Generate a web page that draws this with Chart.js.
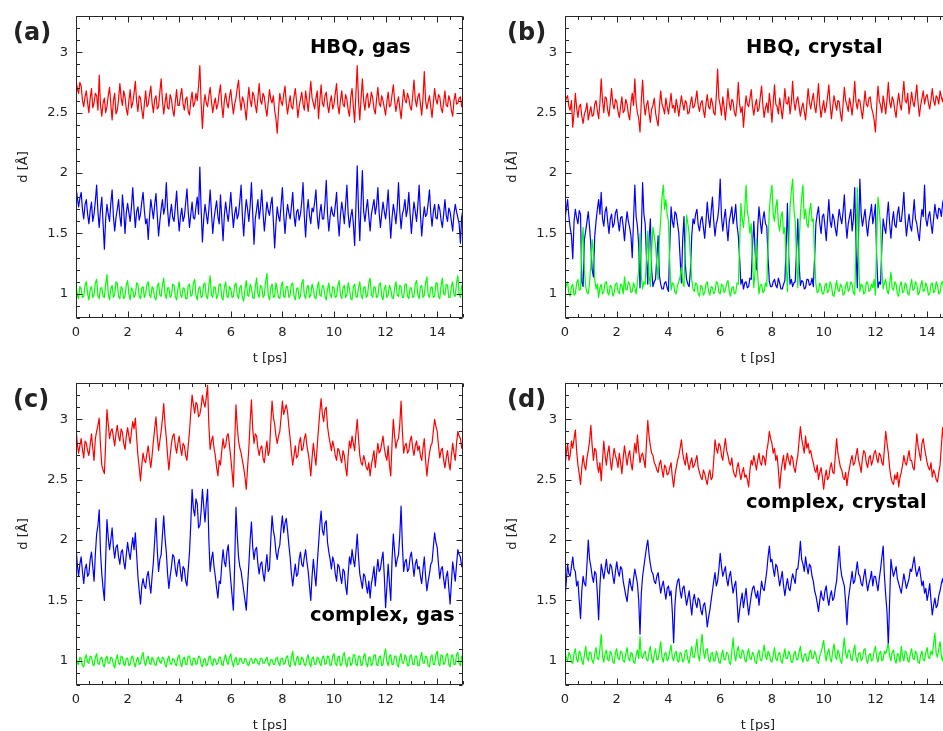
<!DOCTYPE html>
<html>
<head>
<meta charset="utf-8">
<script src="https://cdn.jsdelivr.net/npm/chart.js@4.4.1/dist/chart.umd.min.js"></script>
<style>
  html, body { margin: 0; padding: 0; background: #fff; }
  body { position: relative; width: 943px; height: 731px; overflow: hidden; font-family: "DejaVu Sans", sans-serif; color: #222; }
  canvas { position: absolute; }
  .lbl { position: absolute; font-weight: bold; font-size: 24px; line-height: 24px; white-space: nowrap; }
  .ttl { position: absolute; font-weight: bold; font-size: 19.5px; line-height: 19.5px; white-space: nowrap; color: #000; }
  .ax { position: absolute; font-size: 13px; line-height: 13px; white-space: nowrap; transform: translate(-50%, -50%); }
  .ax.v { transform: translate(-50%, -50%) rotate(-90deg); }
</style>
</head>
<body>
<canvas id="pa" width="470" height="370" style="left:0;top:0;width:470px;height:370px"></canvas>
<canvas id="pb" width="490" height="370" style="left:470px;top:0;width:490px;height:370px"></canvas>
<canvas id="pc" width="470" height="370" style="left:0;top:367px;width:470px;height:370px"></canvas>
<canvas id="pd" width="490" height="370" style="left:470px;top:367px;width:490px;height:370px"></canvas>

<div class="lbl" style="left:13px;top:20px">(a)</div>
<div class="lbl" style="left:507px;top:20px">(b)</div>
<div class="lbl" style="left:13px;top:387px">(c)</div>
<div class="lbl" style="left:507px;top:387px">(d)</div>

<div class="ttl" style="left:310px;top:37px">HBQ, gas</div>
<div class="ttl" style="left:746px;top:37px">HBQ, crystal</div>
<div class="ttl" style="left:310px;top:605px">complex, gas</div>
<div class="ttl" style="left:746px;top:492px">complex, crystal</div>

<div class="ax v" style="left:22px;top:167px">d [Å]</div>
<div class="ax v" style="left:511px;top:167px">d [Å]</div>
<div class="ax v" style="left:22px;top:534px">d [Å]</div>
<div class="ax v" style="left:511px;top:534px">d [Å]</div>
<div class="ax" style="left:270px;top:357px">t [ps]</div>
<div class="ax" style="left:758px;top:357px">t [ps]</div>
<div class="ax" style="left:270px;top:724px">t [ps]</div>
<div class="ax" style="left:758px;top:724px">t [ps]</div>

<script>
// one value every 0.05 ps, 0 .. 15 ps (one row = 1 ps)
const T_STEP = 0.05;
const xTicks = [0, 2, 4, 6, 8, 10, 12, 14];
const yTicks = [1, 1.5, 2, 2.5, 3];

// (a) HBQ, gas
const aRed = [
  2.78, 2.70, 2.66, 2.75, 2.72, 2.60, 2.55, 2.63, 2.68, 2.58, 2.50, 2.62, 2.70, 2.54, 2.58, 2.66, 2.64, 2.52, 2.81, 2.56,
  2.47, 2.58, 2.62, 2.50, 2.55, 2.64, 2.71, 2.57, 2.44, 2.60, 2.66, 2.49, 2.52, 2.61, 2.74, 2.62, 2.56, 2.68, 2.63, 2.53,
  2.48, 2.60, 2.69, 2.54, 2.58, 2.66, 2.76, 2.59, 2.51, 2.64, 2.62, 2.52, 2.45, 2.57, 2.68, 2.55, 2.57, 2.65, 2.72, 2.58,
  2.50, 2.61, 2.64, 2.53, 2.55, 2.67, 2.78, 2.60, 2.49, 2.58, 2.66, 2.54, 2.53, 2.65, 2.61, 2.52, 2.47, 2.59, 2.69, 2.56,
  2.56, 2.64, 2.70, 2.57, 2.52, 2.61, 2.63, 2.51, 2.48, 2.60, 2.67, 2.55, 2.58, 2.66, 2.60, 2.72, 2.89, 2.58, 2.37, 2.56,
  2.65, 2.58, 2.55, 2.64, 2.71, 2.59, 2.50, 2.57, 2.62, 2.53, 2.57, 2.66, 2.73, 2.56, 2.46, 2.60, 2.66, 2.58, 2.54, 2.63,
  2.69, 2.58, 2.49, 2.57, 2.62, 2.70, 2.77, 2.61, 2.52, 2.63, 2.60, 2.53, 2.44, 2.59, 2.71, 2.60, 2.55, 2.67, 2.64, 2.56,
  2.50, 2.62, 2.74, 2.60, 2.57, 2.66, 2.63, 2.54, 2.47, 2.58, 2.69, 2.61, 2.58, 2.64, 2.52, 2.45, 2.33, 2.52, 2.66, 2.59,
  2.56, 2.65, 2.72, 2.58, 2.49, 2.57, 2.64, 2.55, 2.53, 2.63, 2.70, 2.59, 2.46, 2.55, 2.61, 2.67, 2.57, 2.52, 2.68, 2.60,
  2.51, 2.63, 2.76, 2.62, 2.58, 2.53, 2.62, 2.68, 2.45, 2.60, 2.73, 2.58, 2.55, 2.64, 2.67, 2.56, 2.50, 2.59, 2.64, 2.53,
  2.57, 2.66, 2.74, 2.56, 2.49, 2.60, 2.68, 2.57, 2.55, 2.65, 2.61, 2.52, 2.47, 2.63, 2.70, 2.55, 2.42, 2.66, 2.89, 2.60,
  2.44, 2.62, 2.78, 2.60, 2.52, 2.63, 2.66, 2.54, 2.58, 2.67, 2.62, 2.53, 2.49, 2.61, 2.71, 2.58, 2.55, 2.64, 2.60, 2.54,
  2.48, 2.59, 2.67, 2.55, 2.56, 2.65, 2.73, 2.60, 2.51, 2.58, 2.63, 2.54, 2.45, 2.57, 2.69, 2.61, 2.58, 2.66, 2.62, 2.55,
  2.52, 2.64, 2.77, 2.61, 2.55, 2.63, 2.66, 2.57, 2.48, 2.62, 2.84, 2.60, 2.53, 2.59, 2.64, 2.55, 2.46, 2.58, 2.70, 2.61,
  2.57, 2.65, 2.63, 2.54, 2.50, 2.59, 2.68, 2.56, 2.55, 2.64, 2.60, 2.52, 2.47, 2.60, 2.66, 2.57, 2.58, 2.62, 2.63, 2.55,
  2.56
];
const aBlue = [
  1.88, 1.80, 1.72, 1.79, 1.84, 1.70, 1.62, 1.74, 1.78, 1.66, 1.58, 1.69, 1.76, 1.60, 1.66, 1.77, 1.90, 1.68, 1.55, 1.70,
  1.80, 1.58, 1.37, 1.62, 1.74, 1.66, 1.60, 1.75, 1.86, 1.64, 1.52, 1.63, 1.70, 1.78, 1.64, 1.56, 1.82, 1.69, 1.50, 1.67,
  1.75, 1.67, 1.60, 1.72, 1.88, 1.70, 1.55, 1.68, 1.72, 1.61, 1.66, 1.76, 1.84, 1.69, 1.58, 1.62, 1.45, 1.64, 1.78, 1.70,
  1.62, 1.74, 1.83, 1.65, 1.48, 1.60, 1.70, 1.78, 1.66, 1.72, 1.92, 1.70, 1.56, 1.66, 1.74, 1.63, 1.60, 1.72, 1.85, 1.66,
  1.52, 1.64, 1.71, 1.60, 1.64, 1.75, 1.87, 1.68, 1.55, 1.66, 1.76, 1.63, 1.62, 1.72, 1.80, 1.66, 2.05, 1.70, 1.43, 1.62,
  1.74, 1.66, 1.58, 1.70, 1.86, 1.68, 1.50, 1.62, 1.70, 1.77, 1.64, 1.58, 1.82, 1.63, 1.44, 1.65, 1.76, 1.67, 1.60, 1.71,
  1.84, 1.68, 1.55, 1.66, 1.72, 1.62, 1.66, 1.77, 1.90, 1.64, 1.48, 1.66, 1.78, 1.70, 1.60, 1.73, 1.92, 1.66, 1.41, 1.62,
  1.70, 1.78, 1.62, 1.71, 1.86, 1.67, 1.52, 1.64, 1.76, 1.69, 1.65, 1.74, 1.80, 1.60, 1.38, 1.58, 1.72, 1.64, 1.60, 1.74,
  1.88, 1.66, 1.50, 1.64, 1.74, 1.67, 1.62, 1.72, 1.84, 1.65, 1.56, 1.68, 1.70, 1.61, 1.66, 1.76, 1.92, 1.64, 1.47, 1.68,
  1.78, 1.65, 1.58, 1.71, 1.68, 1.76, 1.86, 1.64, 1.54, 1.67, 1.74, 1.62, 1.62, 1.75, 1.94, 1.66, 1.52, 1.64, 1.72, 1.66,
  1.64, 1.73, 1.84, 1.62, 1.48, 1.65, 1.76, 1.68, 1.58, 1.74, 1.90, 1.66, 1.55, 1.64, 1.70, 1.58, 1.40, 1.72, 2.06, 1.70,
  1.44, 1.75, 2.02, 1.68, 1.60, 1.70, 1.78, 1.64, 1.52, 1.66, 1.72, 1.78, 1.66, 1.73, 1.88, 1.67, 1.55, 1.66, 1.76, 1.68,
  1.62, 1.72, 1.86, 1.64, 1.46, 1.63, 1.74, 1.67, 1.58, 1.71, 1.92, 1.68, 1.54, 1.66, 1.70, 1.78, 1.64, 1.70, 1.84, 1.66,
  1.50, 1.64, 1.76, 1.68, 1.60, 1.73, 1.90, 1.66, 1.48, 1.62, 1.72, 1.64, 1.66, 1.75, 1.86, 1.67, 1.56, 1.68, 1.74, 1.63,
  1.62, 1.74, 1.70, 1.61, 1.55, 1.66, 1.78, 1.65, 1.60, 1.71, 1.68, 1.60, 1.52, 1.66, 1.74, 1.68, 1.63, 1.58, 1.42, 1.64,
  1.70
];
const aGreen = [
  1.08, 0.99, 0.96, 1.06, 1.04, 0.97, 0.98, 1.07, 1.10, 1.00, 0.95, 1.04, 1.06, 0.97, 0.99, 1.09, 1.12, 0.98, 0.96, 1.05,
  1.05, 0.98, 0.97, 1.08, 1.16, 1.00, 0.95, 1.04, 1.07, 0.97, 1.00, 1.10, 1.09, 0.98, 0.96, 1.06, 1.04, 0.96, 0.98, 1.07,
  1.11, 1.00, 0.95, 1.05, 1.03, 0.97, 0.99, 1.09, 1.08, 0.98, 0.96, 1.05, 1.06, 0.97, 1.00, 1.08, 1.10, 0.99, 0.97, 1.06,
  1.04, 0.97, 0.95, 1.06, 1.09, 0.99, 0.98, 1.07, 1.13, 1.00, 0.96, 1.05, 1.05, 0.97, 0.99, 1.08, 1.07, 0.98, 0.95, 1.04,
  1.10, 0.99, 0.97, 1.05, 1.04, 0.96, 0.96, 1.07, 1.08, 0.98, 0.99, 1.09, 1.12, 0.99, 0.95, 1.04, 1.06, 0.97, 0.98, 1.08,
  1.09, 0.98, 0.96, 1.07, 1.15, 0.99, 0.97, 1.06, 1.05, 0.96, 0.99, 1.08, 1.08, 0.97, 0.95, 1.05, 1.10, 0.98, 0.97, 1.06,
  1.04, 0.97, 0.98, 1.07, 1.09, 0.99, 0.96, 1.05, 1.07, 0.97, 0.94, 1.04, 1.11, 0.99, 0.98, 1.08, 1.05, 0.97, 0.96, 1.06,
  1.13, 1.00, 0.97, 1.07, 1.06, 0.97, 0.99, 1.10, 1.17, 0.99, 0.95, 1.05, 1.08, 0.97, 0.98, 1.09, 1.04, 0.97, 0.96, 1.06,
  1.10, 0.98, 0.97, 1.06, 1.06, 0.97, 0.99, 1.08, 1.09, 0.98, 0.95, 1.04, 1.05, 0.96, 0.98, 1.09, 1.12, 0.99, 0.96, 1.05,
  1.07, 0.97, 0.99, 1.08, 1.04, 0.97, 0.96, 1.05, 1.10, 0.99, 0.98, 1.07, 1.06, 0.98, 0.95, 1.04, 1.09, 0.99, 0.97, 1.06,
  1.05, 0.97, 0.98, 1.07, 1.11, 0.99, 0.96, 1.05, 1.07, 0.97, 0.99, 1.09, 1.04, 0.96, 0.95, 1.06, 1.08, 0.98, 0.97, 1.05,
  1.10, 0.99, 0.96, 1.05, 1.06, 0.97, 0.99, 1.09, 1.13, 0.99, 0.97, 1.06, 1.05, 0.97, 0.98, 1.08, 1.09, 0.98, 0.95, 1.04,
  1.07, 0.97, 0.99, 1.07, 1.04, 0.97, 0.96, 1.05, 1.10, 0.99, 0.98, 1.07, 1.06, 0.97, 0.97, 1.08, 1.08, 0.98, 0.96, 1.05,
  1.05, 0.97, 0.98, 1.08, 1.11, 0.99, 0.96, 1.06, 1.07, 0.97, 0.99, 1.09, 1.14, 0.99, 0.97, 1.05, 1.06, 0.97, 0.98, 1.09,
  1.09, 0.98, 0.96, 1.07, 1.13, 1.00, 0.99, 1.08, 1.07, 0.97, 0.97, 1.06, 1.10, 0.99, 0.98, 1.09, 1.15, 1.00, 0.97, 1.07,
  1.06
];

// (b) HBQ, crystal
const bRed = [
  2.58, 2.62, 2.64, 2.55, 2.52, 2.60, 2.38, 2.50, 2.66, 2.54, 2.46, 2.55, 2.57, 2.47, 2.41, 2.49, 2.52, 2.58, 2.44, 2.50,
  2.55, 2.47, 2.48, 2.57, 2.60, 2.52, 2.45, 2.58, 2.78, 2.60, 2.50, 2.63, 2.62, 2.52, 2.47, 2.58, 2.70, 2.57, 2.53, 2.61,
  2.59, 2.51, 2.46, 2.55, 2.63, 2.50, 2.52, 2.61, 2.57, 2.49, 2.44, 2.58, 2.66, 2.56, 2.78, 2.58, 2.50, 2.45, 2.34, 2.60,
  2.77, 2.58, 2.48, 2.56, 2.60, 2.50, 2.42, 2.53, 2.56, 2.62, 2.50, 2.44, 2.39, 2.55, 2.68, 2.57, 2.54, 2.49, 2.62, 2.55,
  2.49, 2.57, 2.66, 2.54, 2.56, 2.50, 2.61, 2.55, 2.47, 2.56, 2.64, 2.57, 2.52, 2.60, 2.58, 2.49, 2.50, 2.58, 2.63, 2.54,
  2.55, 2.61, 2.68, 2.56, 2.51, 2.58, 2.60, 2.52, 2.46, 2.57, 2.65, 2.55, 2.53, 2.62, 2.58, 2.50, 2.48, 2.64, 2.86, 2.62,
  2.56, 2.48, 2.63, 2.55, 2.44, 2.56, 2.70, 2.58, 2.52, 2.61, 2.59, 2.50, 2.47, 2.58, 2.75, 2.57, 2.50, 2.55, 2.38, 2.52,
  2.64, 2.57, 2.55, 2.62, 2.69, 2.55, 2.48, 2.56, 2.61, 2.51, 2.53, 2.63, 2.72, 2.56, 2.46, 2.54, 2.58, 2.50, 2.66, 2.56,
  2.42, 2.58, 2.73, 2.57, 2.55, 2.49, 2.62, 2.54, 2.45, 2.56, 2.70, 2.58, 2.57, 2.63, 2.49, 2.58, 2.76, 2.59, 2.52, 2.60,
  2.63, 2.55, 2.47, 2.54, 2.58, 2.51, 2.44, 2.57, 2.70, 2.59, 2.53, 2.60, 2.66, 2.55, 2.50, 2.61, 2.74, 2.56, 2.46, 2.54,
  2.60, 2.50, 2.55, 2.63, 2.73, 2.57, 2.45, 2.55, 2.64, 2.58, 2.52, 2.60, 2.59, 2.49, 2.43, 2.57, 2.71, 2.60, 2.56, 2.51,
  2.62, 2.56, 2.48, 2.60, 2.76, 2.59, 2.53, 2.61, 2.60, 2.52, 2.45, 2.56, 2.68, 2.57, 2.55, 2.62, 2.63, 2.54, 2.50, 2.44,
  2.34, 2.55, 2.72, 2.60, 2.56, 2.50, 2.64, 2.57, 2.49, 2.61, 2.75, 2.59, 2.54, 2.63, 2.60, 2.52, 2.46, 2.58, 2.66, 2.57,
  2.52, 2.64, 2.76, 2.60, 2.58, 2.66, 2.49, 2.57, 2.67, 2.59, 2.55, 2.63, 2.73, 2.58, 2.47, 2.56, 2.62, 2.68, 2.57, 2.63,
  2.65, 2.58, 2.53, 2.61, 2.70, 2.60, 2.56, 2.64, 2.62, 2.57, 2.68, 2.63, 2.59, 2.66, 2.72, 2.64, 2.66, 2.73, 2.70, 2.65,
  2.68
];
const bBlue = [
  1.62, 1.70, 1.78, 1.64, 1.55, 1.48, 1.29, 1.60, 1.70, 1.63, 1.58, 1.69, 1.66, 1.10, 1.06, 1.45, 1.52, 1.60, 1.68, 1.55,
  1.40, 1.20, 1.14, 1.48, 1.60, 1.70, 1.78, 1.66, 1.84, 1.62, 1.56, 1.68, 1.72, 1.60, 1.50, 1.62, 1.66, 1.55, 1.58, 1.67,
  1.70, 1.60, 1.52, 1.63, 1.64, 1.56, 1.44, 1.58, 1.68, 1.60, 1.55, 1.48, 1.30, 1.62, 1.90, 1.64, 1.56, 1.40, 1.05, 1.50,
  1.92, 1.66, 1.58, 1.30, 1.08, 1.45, 1.62, 1.20, 1.06, 1.10, 1.12, 1.30, 1.48, 1.15, 1.08, 1.04, 1.04, 1.09, 1.10, 1.05,
  1.02, 1.40, 1.72, 1.60, 1.55, 1.68, 1.66, 1.58, 1.50, 1.30, 1.09, 1.45, 1.64, 1.25, 1.12, 1.08, 1.06, 1.20, 1.48, 1.62,
  1.58, 1.66, 1.70, 1.57, 1.52, 1.61, 1.64, 1.55, 1.46, 1.60, 1.76, 1.63, 1.55, 1.68, 1.80, 1.60, 1.48, 1.58, 1.62, 1.72,
  1.95, 1.64, 1.52, 1.62, 1.70, 1.56, 1.44, 1.60, 1.66, 1.72, 1.58, 1.64, 1.74, 1.57, 1.48, 1.30, 1.08, 1.12, 1.04, 1.09,
  1.10, 1.05, 1.06, 1.13, 1.12, 1.40, 1.60, 1.35, 1.20, 1.55, 1.72, 1.60, 1.50, 1.62, 1.68, 1.58, 1.56, 1.30, 1.10, 1.06,
  1.06, 1.10, 1.12, 1.07, 1.05, 1.13, 1.09, 1.04, 1.04, 1.08, 1.11, 1.40, 1.75, 1.30, 1.08, 1.12, 1.06, 1.09, 1.10, 1.35,
  1.62, 1.25, 1.07, 1.11, 1.10, 1.04, 1.05, 1.12, 1.12, 1.07, 1.08, 1.13, 1.06, 1.30, 1.58, 1.66, 1.72, 1.58, 1.50, 1.64,
  1.66, 1.56, 1.44, 1.62, 1.78, 1.60, 1.55, 1.66, 1.62, 1.54, 1.48, 1.60, 1.70, 1.63, 1.58, 1.68, 1.82, 1.60, 1.46, 1.58,
  1.64, 1.70, 1.52, 1.62, 1.88, 1.40, 1.05, 1.50, 1.95, 1.66, 1.56, 1.63, 1.70, 1.57, 1.48, 1.60, 1.66, 1.74, 1.58, 1.65,
  1.74, 1.30, 1.05, 1.10, 1.08, 1.40, 1.62, 1.55, 1.50, 1.64, 1.76, 1.58, 1.46, 1.60, 1.68, 1.57, 1.55, 1.66, 1.72, 1.60,
  1.60, 1.70, 1.84, 1.62, 1.48, 1.58, 1.66, 1.56, 1.52, 1.64, 1.78, 1.62, 1.58, 1.50, 1.44, 1.60, 1.70, 1.64, 1.90, 1.62,
  1.56, 1.64, 1.68, 1.58, 1.50, 1.62, 1.74, 1.66, 1.62, 1.71, 1.70, 1.64, 1.75, 1.80, 1.66, 1.73, 1.72, 1.78, 1.70, 1.76,
  1.70
];
const bGreen = [
  1.02, 1.07, 1.10, 1.00, 0.98, 1.06, 1.08, 0.99, 1.00, 1.09, 1.12, 1.03, 1.04, 1.40, 1.55, 1.20, 1.06, 1.01, 1.00, 1.10,
  1.24, 1.45, 1.35, 1.12, 1.04, 1.08, 0.97, 1.05, 1.08, 1.00, 1.02, 1.09, 1.10, 1.01, 0.99, 1.07, 1.06, 0.98, 1.01, 1.08,
  1.09, 1.02, 1.00, 1.08, 1.07, 1.00, 1.14, 1.04, 1.03, 1.10, 1.08, 1.01, 1.02, 1.09, 1.05, 1.00, 1.10, 1.20, 1.50, 1.15,
  1.04, 1.10, 1.08, 1.30, 1.52, 1.15, 1.06, 1.35, 1.55, 1.48, 1.40, 1.25, 1.12, 1.45, 1.62, 1.80, 1.90, 1.70, 1.78, 1.66,
  1.60, 1.25, 1.03, 1.09, 1.08, 1.01, 1.00, 1.07, 1.10, 1.14, 1.22, 1.10, 1.06, 1.40, 1.65, 1.58, 1.50, 1.30, 1.12, 1.04,
  1.02, 1.09, 1.08, 1.00, 0.98, 1.07, 1.06, 0.99, 1.01, 1.08, 1.10, 1.02, 0.99, 1.06, 1.05, 1.00, 1.02, 1.10, 1.09, 1.01,
  1.00, 1.08, 1.07, 1.01, 1.03, 1.09, 1.11, 1.02, 0.98, 1.05, 1.06, 1.00, 1.01, 1.09, 1.08, 1.40, 1.75, 1.62, 1.55, 1.70,
  1.90, 1.68, 1.62, 1.50, 1.58, 1.25, 1.05, 1.20, 1.45, 1.15, 1.00, 1.07, 1.08, 1.01, 1.02, 1.09, 1.06, 1.40, 1.70, 1.82,
  1.90, 1.66, 1.60, 1.72, 1.78, 1.58, 1.52, 1.64, 1.68, 1.50, 1.55, 1.25, 1.02, 1.40, 1.72, 1.85, 1.95, 1.70, 1.60, 1.30,
  1.05, 1.40, 1.65, 1.80, 1.90, 1.62, 1.70, 1.58, 1.55, 1.68, 1.75, 1.60, 1.62, 1.30, 1.08, 1.01, 1.02, 1.09, 1.06, 1.00,
  1.00, 1.07, 1.09, 1.01, 1.03, 1.10, 1.07, 0.99, 0.98, 1.05, 1.11, 1.03, 1.02, 1.08, 1.06, 0.99, 1.00, 1.07, 1.10, 1.02,
  1.04, 1.10, 1.08, 1.01, 0.99, 1.40, 1.88, 1.30, 1.02, 1.08, 1.07, 1.00, 1.01, 1.10, 1.09, 1.02, 1.03, 1.08, 1.05, 1.12,
  0.99, 1.45, 1.80, 1.70, 1.55, 1.20, 1.04, 1.09, 1.12, 1.03, 1.00, 1.08, 1.18, 1.05, 1.03, 1.10, 1.08, 1.00, 0.98, 1.07,
  1.10, 1.01, 1.02, 1.09, 1.07, 1.00, 0.99, 1.06, 1.12, 1.03, 1.04, 1.10, 1.08, 0.99, 1.01, 1.07, 1.11, 1.02, 1.03, 1.09,
  1.06, 0.99, 1.00, 1.08, 1.09, 1.01, 1.02, 1.10, 1.07, 1.00, 1.01, 1.09, 1.10, 1.02, 1.04, 1.11, 1.05, 0.99, 1.03, 1.08,
  1.04
];

// (c) complex, gas
const cRed = [
  2.93, 2.80, 2.72, 2.78, 2.84, 2.75, 2.68, 2.82, 2.80, 2.74, 2.70, 2.79, 2.88, 2.76, 2.66, 2.84, 2.90, 2.95, 3.01, 2.78,
  2.62, 2.58, 2.55, 2.80, 3.08, 2.96, 2.84, 2.90, 2.92, 2.85, 2.78, 2.88, 2.95, 2.86, 2.82, 2.92, 2.89, 2.80, 2.75, 2.86,
  2.93, 2.86, 2.80, 2.90, 2.98, 2.92, 3.01, 2.85, 2.70, 2.60, 2.49, 2.62, 2.72, 2.66, 2.64, 2.72, 2.78, 2.68, 2.60, 2.70,
  2.82, 2.92, 3.02, 2.86, 2.74, 2.82, 2.90, 3.00, 3.13, 2.96, 2.85, 2.70, 2.58, 2.70, 2.80, 2.86, 2.88, 2.78, 2.72, 2.80,
  2.86, 2.76, 2.70, 2.80, 2.78, 2.70, 2.66, 2.78, 2.90, 3.06, 3.20, 3.12, 3.05, 3.14, 3.12, 3.02, 3.04, 3.10, 3.20, 3.14,
  3.10, 3.18, 3.28, 2.95, 2.75, 2.82, 2.86, 2.76, 2.70, 2.60, 2.53, 2.66, 2.62, 2.74, 2.84, 2.76, 2.78, 2.86, 2.88, 2.78,
  2.68, 2.56, 2.44, 2.80, 3.12, 2.94, 2.82, 2.76, 2.72, 2.66, 2.60, 2.52, 2.42, 2.60, 2.76, 2.98, 3.16, 2.92, 2.80, 2.88,
  2.86, 2.76, 2.70, 2.76, 2.78, 2.68, 2.64, 2.74, 2.82, 2.70, 2.74, 2.96, 3.15, 3.02, 2.96, 2.86, 2.80, 2.86, 2.90, 3.02,
  3.15, 3.04, 3.08, 3.12, 3.06, 2.94, 2.84, 2.72, 2.62, 2.70, 2.78, 2.68, 2.70, 2.80, 2.85, 2.74, 2.76, 2.84, 2.88, 2.78,
  2.72, 2.64, 2.53, 2.68, 2.80, 2.70, 2.62, 2.78, 2.92, 3.06, 3.17, 3.04, 2.98, 3.08, 3.10, 2.94, 2.86, 2.80, 2.74, 2.82,
  2.77, 2.70, 2.66, 2.76, 2.74, 2.68, 2.64, 2.74, 2.70, 2.60, 2.53, 2.70, 2.82, 2.76, 2.86, 2.80, 2.74, 2.88, 3.00, 2.84,
  2.70, 2.64, 2.62, 2.70, 2.66, 2.60, 2.58, 2.64, 2.53, 2.62, 2.68, 2.74, 2.60, 2.70, 2.80, 2.72, 2.74, 2.80, 2.86, 2.76,
  2.70, 2.66, 2.78, 2.62, 2.53, 2.80, 3.00, 2.86, 2.76, 2.82, 2.84, 2.96, 3.15, 2.90, 2.72, 2.78, 2.80, 2.72, 2.74, 2.82,
  2.86, 2.76, 2.70, 2.78, 2.82, 2.74, 2.78, 2.70, 2.66, 2.76, 2.84, 2.66, 2.53, 2.64, 2.72, 2.78, 2.80, 2.90, 3.00, 2.94,
  2.90, 2.78, 2.68, 2.74, 2.76, 2.66, 2.60, 2.68, 2.74, 2.64, 2.58, 2.70, 2.80, 2.72, 2.66, 2.80, 2.90, 2.86, 2.84, 2.76,
  2.80
];
const cBlue = [
  1.95, 1.80, 1.70, 1.80, 1.86, 1.74, 1.64, 1.76, 1.80, 1.70, 1.72, 1.84, 1.90, 1.78, 1.66, 1.88, 2.05, 2.12, 2.25, 1.90,
  1.72, 1.60, 1.50, 1.84, 2.17, 2.02, 1.92, 2.00, 2.10, 1.94, 1.85, 1.94, 1.96, 1.86, 1.80, 1.90, 1.92, 1.82, 1.76, 1.88,
  1.98, 1.90, 1.84, 1.94, 2.02, 1.92, 2.06, 1.88, 1.70, 1.58, 1.47, 1.62, 1.68, 1.62, 1.60, 1.70, 1.74, 1.64, 1.56, 1.70,
  1.82, 2.00, 2.18, 1.92, 1.74, 1.84, 1.88, 2.04, 2.20, 2.02, 1.90, 1.72, 1.60, 1.70, 1.78, 1.88, 1.86, 1.76, 1.70, 1.80,
  1.84, 1.74, 1.66, 1.78, 1.76, 1.66, 1.62, 1.76, 1.90, 2.14, 2.42, 2.26, 2.20, 2.34, 2.30, 2.10, 2.12, 2.24, 2.42, 2.28,
  2.15, 2.30, 2.42, 2.00, 1.74, 1.84, 1.90, 1.78, 1.70, 1.60, 1.52, 1.66, 1.64, 1.80, 1.92, 1.82, 1.78, 1.90, 1.96, 1.80,
  1.66, 1.54, 1.42, 1.80, 2.27, 2.04, 1.86, 1.78, 1.74, 1.66, 1.58, 1.50, 1.42, 1.62, 1.80, 2.00, 2.15, 1.94, 1.84, 1.92,
  1.94, 1.80, 1.72, 1.80, 1.82, 1.72, 1.66, 1.78, 1.88, 1.74, 1.76, 2.00, 2.20, 2.08, 2.02, 1.90, 1.84, 1.92, 1.96, 2.10,
  2.20, 2.06, 2.14, 2.18, 2.08, 1.96, 1.86, 1.72, 1.62, 1.72, 1.80, 1.70, 1.72, 1.84, 1.90, 1.80, 1.78, 1.86, 1.92, 1.82,
  1.74, 1.62, 1.50, 1.70, 1.84, 1.72, 1.62, 1.80, 1.96, 2.12, 2.24, 2.08, 2.04, 2.14, 2.16, 1.98, 1.90, 1.84, 1.76, 1.86,
  1.82, 1.72, 1.66, 1.80, 1.78, 1.70, 1.64, 1.76, 1.74, 1.62, 1.55, 1.72, 1.86, 1.80, 1.92, 1.84, 1.78, 1.90, 2.05, 1.86,
  1.72, 1.66, 1.60, 1.72, 1.70, 1.62, 1.56, 1.66, 1.52, 1.64, 1.70, 1.78, 1.62, 1.74, 1.84, 1.74, 1.76, 1.84, 1.90, 1.70,
  1.44, 1.62, 1.80, 1.64, 1.50, 1.84, 2.05, 1.90, 1.78, 1.84, 1.88, 2.04, 2.28, 1.96, 1.74, 1.82, 1.84, 1.74, 1.76, 1.86,
  1.90, 1.80, 1.70, 1.80, 1.84, 1.76, 1.78, 1.70, 1.64, 1.76, 1.86, 1.70, 1.58, 1.66, 1.72, 1.80, 1.82, 1.94, 2.06, 1.98,
  1.94, 1.80, 1.68, 1.76, 1.78, 1.68, 1.60, 1.70, 1.74, 1.60, 1.47, 1.64, 1.82, 1.74, 1.66, 1.80, 1.92, 1.88, 1.86, 1.78,
  1.82
];
const cGreen = [
  1.04, 0.98, 0.97, 1.03, 1.02, 0.96, 0.95, 1.02, 1.05, 0.99, 0.98, 1.04, 1.03, 0.97, 0.96, 1.03, 1.06, 0.98, 0.97, 1.02,
  1.03, 0.97, 0.95, 1.02, 1.04, 0.98, 0.98, 1.03, 1.02, 0.97, 0.94, 1.01, 1.05, 0.98, 0.97, 1.04, 1.03, 0.97, 0.96, 1.02,
  1.02, 0.96, 0.97, 1.03, 1.04, 0.98, 0.95, 1.01, 1.03, 0.97, 0.98, 1.04, 1.07, 0.99, 0.96, 1.02, 1.04, 0.98, 0.97, 1.03,
  1.01, 0.97, 0.96, 1.02, 1.03, 0.99, 0.98, 1.03, 1.02, 0.97, 0.95, 1.01, 1.04, 0.98, 0.97, 1.02, 1.01, 0.97, 0.96, 1.03,
  1.05, 0.98, 0.95, 1.02, 1.03, 0.97, 0.97, 1.04, 1.04, 0.98, 0.96, 1.02, 1.02, 0.97, 0.98, 1.04, 1.03, 0.97, 0.95, 1.01,
  1.02, 0.96, 0.97, 1.03, 1.04, 0.98, 0.96, 1.02, 1.01, 0.97, 0.98, 1.03, 1.03, 0.97, 0.96, 1.02, 1.05, 0.99, 0.97, 1.03,
  1.06, 0.99, 0.95, 1.01, 1.03, 0.97, 0.97, 1.02, 1.02, 0.98, 0.98, 1.02, 1.01, 0.97, 0.96, 1.01, 1.02, 0.98, 0.98, 1.02,
  1.01, 0.98, 0.97, 1.02, 1.02, 0.98, 0.98, 1.01, 1.03, 0.98, 0.96, 1.01, 1.01, 0.97, 0.97, 1.02, 1.03, 0.98, 0.96, 1.02,
  1.02, 0.97, 0.98, 1.03, 1.04, 0.97, 0.95, 1.03, 1.08, 0.99, 0.96, 1.02, 1.04, 0.97, 0.97, 1.03, 1.02, 0.97, 0.96, 1.02,
  1.05, 0.98, 0.95, 1.02, 1.03, 0.97, 0.97, 1.03, 1.02, 0.98, 0.96, 1.03, 1.04, 0.97, 0.98, 1.04, 1.03, 0.96, 0.97, 1.04,
  1.06, 0.98, 0.96, 1.03, 1.04, 0.96, 0.97, 1.04, 1.07, 0.98, 0.95, 1.02, 1.03, 0.96, 0.98, 1.05, 1.05, 0.97, 0.96, 1.04,
  1.04, 0.96, 0.97, 1.04, 1.06, 0.98, 0.95, 1.03, 1.03, 0.96, 0.98, 1.05, 1.05, 0.97, 0.96, 1.03, 1.04, 0.96, 0.97, 1.05,
  1.10, 0.99, 0.96, 1.04, 1.05, 0.97, 0.97, 1.04, 1.04, 0.97, 0.95, 1.03, 1.06, 0.98, 0.98, 1.05, 1.03, 0.96, 0.96, 1.04,
  1.05, 0.97, 0.97, 1.04, 1.04, 0.96, 0.96, 1.03, 1.07, 0.98, 0.98, 1.04, 1.03, 0.96, 0.95, 1.03, 1.05, 0.97, 0.97, 1.05,
  1.08, 0.98, 0.96, 1.05, 1.04, 0.97, 0.98, 1.05, 1.06, 0.97, 0.95, 1.04, 1.05, 0.97, 0.97, 1.05, 1.07, 0.98, 0.96, 1.04,
  1.03
];

// (d) complex, crystal
const dRed = [
  2.61, 2.72, 2.80, 2.66, 2.70, 2.82, 2.76, 2.84, 2.91, 2.74, 2.62, 2.55, 2.46, 2.60, 2.70, 2.62, 2.58, 2.68, 2.74, 2.82,
  2.95, 2.78, 2.66, 2.76, 2.74, 2.62, 2.56, 2.64, 2.49, 2.66, 2.82, 2.70, 2.62, 2.72, 2.78, 2.66, 2.58, 2.68, 2.76, 2.70,
  2.66, 2.60, 2.72, 2.64, 2.55, 2.68, 2.78, 2.70, 2.62, 2.70, 2.74, 2.64, 2.58, 2.70, 2.80, 2.72, 2.87, 2.74, 2.64, 2.70,
  2.72, 2.66, 2.60, 2.80, 2.99, 2.86, 2.78, 2.72, 2.70, 2.64, 2.62, 2.58, 2.56, 2.63, 2.66, 2.58, 2.52, 2.62, 2.60, 2.54,
  2.55, 2.60, 2.64, 2.52, 2.44, 2.54, 2.60, 2.66, 2.70, 2.76, 2.83, 2.72, 2.66, 2.62, 2.72, 2.64, 2.58, 2.64, 2.68, 2.60,
  2.62, 2.66, 2.70, 2.60, 2.56, 2.52, 2.50, 2.58, 2.55, 2.50, 2.46, 2.54, 2.58, 2.50, 2.52, 2.66, 2.83, 2.76, 2.72, 2.80,
  2.78, 2.70, 2.66, 2.76, 2.84, 2.74, 2.70, 2.64, 2.62, 2.68, 2.58, 2.54, 2.52, 2.60, 2.64, 2.56, 2.50, 2.56, 2.60, 2.52,
  2.54, 2.50, 2.44, 2.58, 2.66, 2.62, 2.70, 2.64, 2.58, 2.66, 2.72, 2.64, 2.62, 2.70, 2.68, 2.62, 2.74, 2.80, 2.90, 2.84,
  2.80, 2.72, 2.76, 2.66, 2.70, 2.58, 2.43, 2.56, 2.64, 2.70, 2.58, 2.66, 2.72, 2.66, 2.62, 2.70, 2.68, 2.60, 2.56, 2.64,
  2.70, 2.82, 2.94, 2.84, 2.78, 2.72, 2.86, 2.76, 2.80, 2.72, 2.74, 2.68, 2.64, 2.58, 2.56, 2.62, 2.50, 2.56, 2.60, 2.52,
  2.42, 2.52, 2.58, 2.50, 2.52, 2.60, 2.64, 2.56, 2.55, 2.70, 2.84, 2.72, 2.66, 2.60, 2.58, 2.52, 2.50, 2.56, 2.45, 2.54,
  2.60, 2.66, 2.70, 2.62, 2.64, 2.70, 2.76, 2.66, 2.62, 2.56, 2.68, 2.74, 2.72, 2.64, 2.60, 2.68, 2.70, 2.62, 2.66, 2.72,
  2.74, 2.68, 2.64, 2.72, 2.70, 2.64, 2.62, 2.76, 2.90, 2.80, 2.72, 2.60, 2.52, 2.48, 2.46, 2.54, 2.50, 2.56, 2.44, 2.52,
  2.56, 2.62, 2.70, 2.64, 2.62, 2.68, 2.74, 2.66, 2.66, 2.60, 2.58, 2.72, 2.88, 2.78, 2.72, 2.66, 2.80, 2.84, 2.76, 2.70,
  2.64, 2.60, 2.58, 2.64, 2.52, 2.58, 2.55, 2.50, 2.48, 2.56, 2.62, 2.78, 2.93, 2.80, 2.70, 2.62, 2.66, 2.74, 2.72, 2.80,
  2.70
];
const dBlue = [
  1.51, 1.66, 1.80, 1.72, 1.70, 1.78, 1.86, 1.76, 1.74, 1.62, 1.66, 1.50, 1.35, 1.58, 1.70, 1.64, 1.62, 1.80, 2.00, 1.84,
  1.78, 1.70, 1.65, 1.74, 1.72, 1.56, 1.34, 1.62, 1.80, 1.74, 1.68, 1.76, 1.84, 1.74, 1.72, 1.80, 1.78, 1.70, 1.64, 1.74,
  1.82, 1.74, 1.70, 1.78, 1.76, 1.66, 1.60, 1.54, 1.49, 1.60, 1.68, 1.62, 1.58, 1.68, 1.76, 1.70, 1.64, 1.50, 1.22, 1.56,
  1.70, 1.78, 1.86, 1.94, 2.00, 1.88, 1.80, 1.74, 1.72, 1.66, 1.64, 1.70, 1.73, 1.64, 1.56, 1.62, 1.66, 1.58, 1.51, 1.60,
  1.62, 1.54, 1.58, 1.40, 1.15, 1.46, 1.60, 1.66, 1.68, 1.58, 1.52, 1.60, 1.62, 1.54, 1.46, 1.52, 1.58, 1.48, 1.38, 1.50,
  1.55, 1.48, 1.44, 1.52, 1.50, 1.42, 1.38, 1.46, 1.48, 1.40, 1.28, 1.36, 1.42, 1.50, 1.58, 1.66, 1.73, 1.62, 1.66, 1.76,
  1.89, 1.78, 1.70, 1.74, 1.78, 1.68, 1.62, 1.70, 1.74, 1.64, 1.56, 1.62, 1.66, 1.50, 1.32, 1.42, 1.50, 1.56, 1.44, 1.52,
  1.60, 1.48, 1.38, 1.46, 1.54, 1.60, 1.62, 1.56, 1.52, 1.58, 1.46, 1.56, 1.66, 1.60, 1.58, 1.66, 1.74, 1.86, 1.95, 1.82,
  1.84, 1.76, 1.70, 1.80, 1.78, 1.70, 1.62, 1.68, 1.74, 1.62, 1.54, 1.62, 1.68, 1.60, 1.58, 1.66, 1.72, 1.68, 1.64, 1.76,
  1.76, 1.86, 1.99, 1.84, 1.80, 1.74, 1.86, 1.78, 1.72, 1.80, 1.78, 1.70, 1.66, 1.58, 1.54, 1.48, 1.41, 1.50, 1.58, 1.52,
  1.50, 1.58, 1.62, 1.52, 1.46, 1.54, 1.58, 1.50, 1.52, 1.60, 1.66, 1.80, 1.95, 1.78, 1.70, 1.66, 1.62, 1.48, 1.30, 1.50,
  1.58, 1.66, 1.74, 1.64, 1.66, 1.74, 1.82, 1.72, 1.70, 1.64, 1.62, 1.70, 1.76, 1.66, 1.58, 1.64, 1.68, 1.74, 1.62, 1.70,
  1.70, 1.64, 1.58, 1.68, 1.76, 1.86, 1.95, 1.70, 1.54, 1.40, 1.12, 1.50, 1.84, 1.76, 1.70, 1.74, 1.78, 1.68, 1.64, 1.60,
  1.56, 1.64, 1.72, 1.66, 1.60, 1.64, 1.68, 1.76, 1.74, 1.80, 1.86, 1.76, 1.70, 1.74, 1.78, 1.70, 1.62, 1.66, 1.56, 1.60,
  1.50, 1.56, 1.64, 1.50, 1.38, 1.46, 1.52, 1.44, 1.46, 1.54, 1.58, 1.64, 1.68, 1.62, 1.60, 1.70, 1.66, 1.58, 1.62, 1.66,
  1.60
];
const dGreen = [
  1.08, 1.02, 1.00, 1.07, 1.05, 0.99, 0.98, 1.06, 1.10, 1.01, 0.99, 1.08, 1.06, 1.00, 0.97, 1.05, 1.12, 1.03, 1.00, 1.07,
  1.07, 1.00, 0.98, 1.06, 1.11, 1.02, 1.01, 1.10, 1.22, 1.04, 0.99, 1.06, 1.09, 1.01, 1.00, 1.08, 1.06, 0.99, 0.98, 1.07,
  1.10, 1.02, 1.01, 1.08, 1.07, 1.00, 0.99, 1.06, 1.11, 1.02, 1.00, 1.07, 1.06, 0.99, 0.98, 1.05, 1.09, 1.02, 1.20, 1.04,
  1.02, 1.06, 1.08, 1.01, 1.00, 1.07, 1.12, 1.02, 0.98, 1.05, 1.10, 1.01, 1.01, 1.08, 1.16, 1.03, 0.99, 1.06, 1.07, 1.00,
  1.02, 1.08, 1.13, 1.03, 1.00, 1.06, 1.08, 1.00, 0.99, 1.07, 1.06, 0.99, 1.01, 1.08, 1.09, 1.01, 0.98, 1.06, 1.12, 1.03,
  1.03, 1.10, 1.18, 1.04, 1.00, 1.12, 1.22, 1.08, 1.02, 1.09, 1.10, 1.01, 0.99, 1.06, 1.07, 1.00, 1.00, 1.08, 1.05, 0.99,
  0.98, 1.05, 1.09, 1.01, 1.01, 1.07, 1.06, 0.99, 0.97, 1.08, 1.19, 1.05, 1.00, 1.08, 1.12, 1.03, 1.02, 1.09, 1.08, 1.01,
  0.99, 1.06, 1.10, 1.02, 1.01, 1.07, 1.05, 0.99, 0.98, 1.06, 1.09, 1.01, 1.00, 1.07, 1.13, 1.04, 1.01, 1.08, 1.06, 1.00,
  0.99, 1.05, 1.11, 1.02, 1.00, 1.06, 1.07, 1.00, 0.98, 1.05, 1.10, 1.02, 1.02, 1.08, 1.05, 0.99, 0.99, 1.06, 1.08, 1.01,
  1.01, 1.07, 1.12, 1.03, 0.99, 1.05, 1.06, 1.00, 1.00, 1.07, 1.09, 1.02, 1.02, 1.08, 1.05, 0.99, 0.98, 1.04, 1.07, 1.12,
  1.17, 1.06, 1.00, 1.07, 1.10, 1.02, 0.99, 1.08, 1.14, 1.04, 1.01, 1.09, 1.06, 1.00, 0.98, 1.10, 1.19, 1.06, 1.02, 1.08,
  1.09, 1.02, 1.00, 1.08, 1.13, 1.03, 0.99, 1.06, 1.07, 1.00, 1.02, 1.09, 1.10, 1.01, 0.98, 1.05, 1.06, 1.00, 1.01, 1.08,
  1.12, 1.03, 0.99, 1.06, 1.08, 1.00, 1.01, 1.08, 1.06, 1.10, 1.14, 1.04, 1.00, 1.07, 1.09, 1.01, 0.98, 1.06, 1.05, 0.99,
  1.12, 1.04, 1.00, 1.08, 1.07, 1.00, 0.99, 1.06, 1.10, 1.02, 1.01, 1.08, 1.06, 0.99, 0.98, 1.05, 1.08, 1.01, 1.00, 1.07,
  1.11, 1.03, 1.02, 1.08, 1.05, 1.14, 1.23, 1.06, 1.03, 1.10, 1.16, 1.04, 1.00, 1.07, 1.08, 1.01, 1.02, 1.09, 1.06, 1.00,
  1.04
];

const font = { family: 'DejaVu Sans', size: 13 };
const textColor = '#222';

// frame with inward ticks on all four sides (gnuplot style)
const frame = {
  id: 'frame',
  afterDatasetsDraw(chart) {
    const { ctx, chartArea: a, scales } = chart;
    const xs = scales.x, ys = scales.y;
    const L = Math.round(a.left) + 0.5, R = Math.round(a.right) - 0.5;
    const T = Math.round(a.top) + 0.5, B = Math.round(a.bottom) - 0.5;
    ctx.save();
    ctx.strokeStyle = '#262626';
    ctx.lineWidth = 1;
    ctx.beginPath();
    ctx.rect(L, T, R - L, B - T);
    for (let i = 0; i <= 30; i++) {
      const px = Math.round(xs.getPixelForValue(i / 2)) + 0.5;
      const len = i % 4 === 0 ? 6 : 3.5;
      ctx.moveTo(px, B); ctx.lineTo(px, B - len);
      ctx.moveTo(px, T); ctx.lineTo(px, T + len);
    }
    for (let i = 8; i <= 33; i++) {
      const py = Math.round(ys.getPixelForValue(i / 10)) + 0.5;
      const len = i % 5 === 0 ? 6 : 3.5;
      ctx.moveTo(L, py); ctx.lineTo(L + len, py);
      ctx.moveTo(R, py); ctx.lineTo(R - len, py);
    }
    ctx.stroke();
    ctx.restore();
  }
};

function series(values, color) {
  return {
    data: values.map((v, i) => ({ x: +(i * T_STEP).toFixed(2), y: v })),
    borderColor: color,
    borderWidth: 1.2,
    borderJoinStyle: 'round',
    pointRadius: 0,
    tension: 0,
    fill: false
  };
}

function makePanel(id, red, blue, green, axisWidth) {
  return new Chart(document.getElementById(id), {
    type: 'line',
    data: {
      datasets: [series(red, '#ff0000'), series(green, '#00ff00'), series(blue, '#0000ff')]
    },
    options: {
      animation: false,
      responsive: false,
      events: [],
      layout: { padding: { left: 0, top: 16, right: 7, bottom: 0 } },
      plugins: { legend: { display: false }, tooltip: { enabled: false }, title: { display: false } },
      scales: {
        x: {
          type: 'linear', min: 0, max: 15,
          grid: { display: false, drawTicks: false },
          border: { display: false },
          afterBuildTicks: s => { s.ticks = xTicks.map(v => ({ value: v })); },
          afterFit: s => { s.height = 52; },
          ticks: { font, color: textColor, padding: 7, maxRotation: 0, autoSkip: false, callback: v => String(v) }
        },
        y: {
          type: 'linear', min: 0.8, max: 3.3,
          grid: { display: false, drawTicks: false },
          border: { display: false },
          afterBuildTicks: s => { s.ticks = yTicks.map(v => ({ value: v })); },
          afterFit: s => { s.width = axisWidth; },
          ticks: { font, color: textColor, padding: 8, callback: v => String(v) }
        }
      }
    },
    plugins: [frame]
  });
}

makePanel('pa', aRed, aBlue, aGreen, 76);
makePanel('pb', bRed, bBlue, bGreen, 95);
makePanel('pc', cRed, cBlue, cGreen, 76);
makePanel('pd', dRed, dBlue, dGreen, 95);
</script>
</body>
</html>
